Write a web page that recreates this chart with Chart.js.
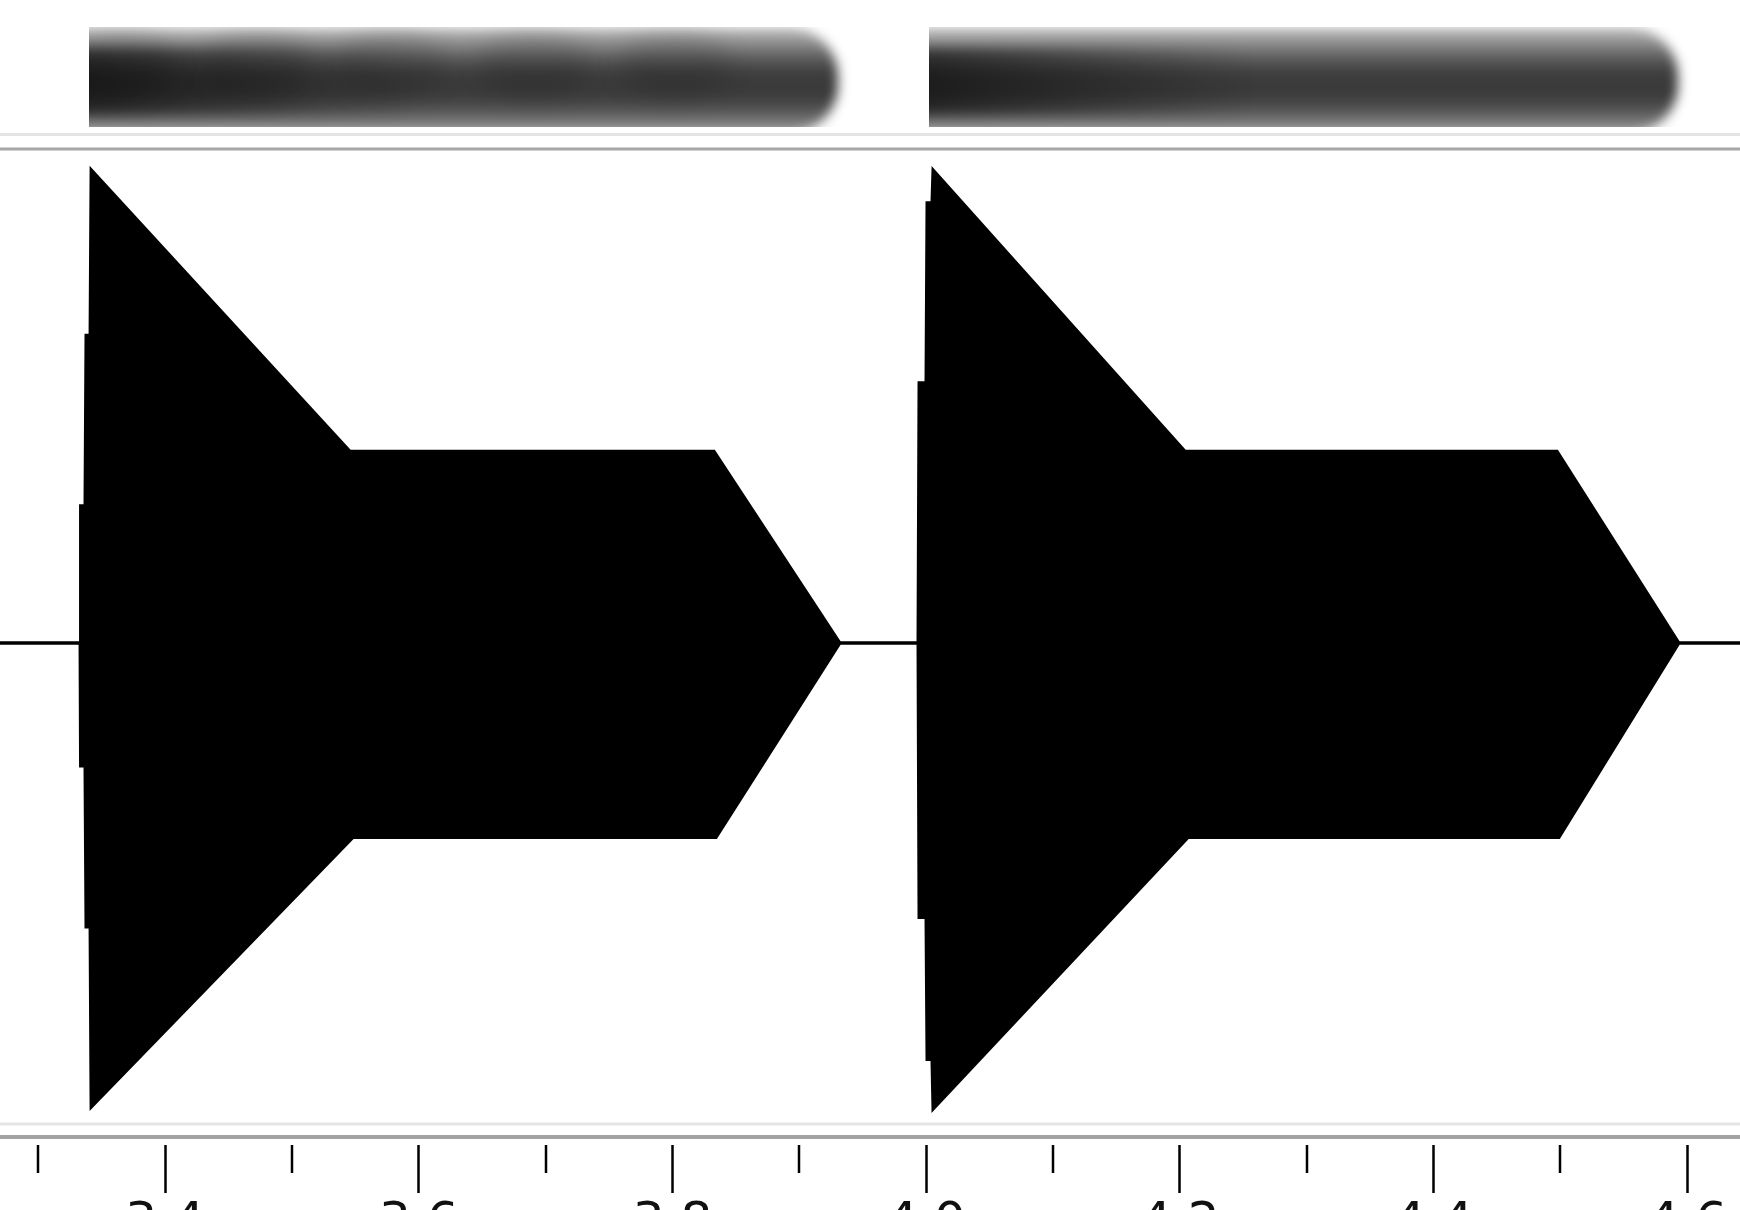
<!DOCTYPE html>
<html lang="en">
<head>
<meta charset="UTF-8" />
<title>Waveform</title>
<script src="https://cdn.jsdelivr.net/npm/chart.js"></script>
<style>
  html, body { margin: 0; padding: 0; background: #fff; }
  #wrap { width: 1740px; height: 1210px; }
</style>
</head>
<body>
<div id="wrap"><canvas id="wave" width="1740" height="1210"></canvas></div>
<script>
// envelope breakpoints: time (s) and amplitude
const upperT = [3.2699, 3.3330, 3.3334, 3.3369, 3.3377, 3.3409, 3.3417, 3.5458, 3.8328, 3.9321,
                3.9936, 3.9944, 3.9999, 4.0007, 4.0046, 4.0054, 4.2041, 4.4974, 4.5935, 4.6416];
const upperA = [0, 0, 0.29, 0.29, 0.65, 0.65, 1.0, 0.405, 0.405, 0,
                0, 0.55, 0.55, 0.93, 0.93, 1.0, 0.405, 0.405, 0, 0];
const lowerT = [3.2699, 3.3330, 3.3334, 3.3369, 3.3377, 3.3409, 3.3417, 3.5482, 3.8344, 3.9321,
                3.9936, 3.9944, 3.9999, 4.0007, 4.0046, 4.0054, 4.2065, 4.4989, 4.5935, 4.6416];
const lowerA = [0, 0, -0.26, -0.26, -0.6, -0.6, -0.981, -0.411, -0.411, 0,
                0, -0.58, -0.58, -0.88, -0.88, -0.985, -0.411, -0.411, 0, 0];

const majorTicks = [3.4, 3.6, 3.8, 4.0, 4.2, 4.4, 4.6];
const minorTicks = [3.3, 3.5, 3.7, 3.9, 4.1, 4.3, 4.5];

// blurred note strip on top
const stripStart = [3.3401, 4.0023];
const stripEnd = [3.9305, 4.5927];
const vibratoT = [3.3645, 3.4733, 3.5773, 3.6908, 3.8020];

const toPts = (ts, as) => ts.map((t, i) => ({ x: t, y: as[i] }));

const extras = {
  id: 'extras',
  beforeDatasetsDraw(chart) {
    const { ctx, scales } = chart;
    const xs = scales.x, ys = scales.ys;
    const yTop = ys.getPixelForValue(1), yBot = ys.getPixelForValue(0);
    const hgt = yBot - yTop;

    stripStart.forEach((s, i) => {
      const x0 = xs.getPixelForValue(s), x1 = xs.getPixelForValue(stripEnd[i]);
      ctx.save();
      ctx.beginPath();
      ctx.rect(x0, yTop - 3, x1 - x0 + 30, hgt + 3);
      ctx.clip();
      ctx.filter = 'blur(6px)';

      const g = ctx.createLinearGradient(0, yTop, 0, yBot);
      g.addColorStop(0, '#b8b8b8');
      g.addColorStop(0.14, '#8c8c8c');
      g.addColorStop(0.3, '#5a5a5a');
      g.addColorStop(0.45, '#3c3c3c');
      g.addColorStop(0.65, '#393939');
      g.addColorStop(0.8, '#4e4e4e');
      g.addColorStop(0.9, '#6a6a6a');
      g.addColorStop(1, '#8a8a8a');
      ctx.fillStyle = g;
      ctx.beginPath();
      ctx.roundRect(x0 - 30, yTop - 2, x1 - x0 + 30, hgt + 8, [0, 48, 48, 0]);
      ctx.fill();

      // darker onset
      const h = ctx.createLinearGradient(x0, 0, x0 + 320, 0);
      h.addColorStop(0, 'rgba(0,0,0,0.5)');
      h.addColorStop(1, 'rgba(0,0,0,0)');
      ctx.fillStyle = h;
      ctx.fillRect(x0 - 30, yTop + 18, 350, hgt - 30);

      if (i === 0) {
        ctx.filter = 'blur(12px)';
        vibratoT.forEach(t => {
          const cx = xs.getPixelForValue(t);
          ctx.fillStyle = 'rgba(0,0,0,0.12)';
          ctx.beginPath();
          ctx.ellipse(cx, yTop + hgt * 0.35, 55, 34, 0, 0, Math.PI * 2);
          ctx.fill();
        });
      }
      ctx.restore();
    });

    // panel separators
    const lines = [[134.5, 3, '#e4e4e4'], [149, 3, '#a6a6a6'], [1124, 3, '#e4e4e4'], [1137, 4, '#a3a3a3']];
    ctx.save();
    lines.forEach(([y, w, c]) => {
      ctx.strokeStyle = c;
      ctx.lineWidth = w;
      ctx.beginPath();
      ctx.moveTo(0, y);
      ctx.lineTo(chart.width, y);
      ctx.stroke();
    });
    ctx.restore();
  },
  afterDraw(chart) {
    const { ctx, scales, chartArea } = chart;
    ctx.save();
    ctx.strokeStyle = '#000';
    ctx.lineWidth = 2.5;
    minorTicks.forEach(v => {
      const px = Math.round(scales.x.getPixelForValue(v));
      ctx.beginPath();
      ctx.moveTo(px, chartArea.bottom);
      ctx.lineTo(px, chartArea.bottom + 28);
      ctx.stroke();
    });
    ctx.restore();
  }
};

new Chart(document.getElementById('wave'), {
  type: 'line',
  data: {
    datasets: [
      { data: toPts(upperT, upperA), yAxisID: 'y', borderColor: '#000', backgroundColor: '#000',
        borderWidth: 3, pointRadius: 0, tension: 0, fill: '+1' },
      { data: toPts(lowerT, lowerA), yAxisID: 'y', borderColor: '#000', backgroundColor: '#000',
        borderWidth: 3, pointRadius: 0, tension: 0, fill: false }
    ]
  },
  options: {
    responsive: false,
    animation: false,
    devicePixelRatio: 1,
    layout: { padding: { left: 0, right: 0, top: 0, bottom: -45 } },
    plugins: { legend: { display: false }, tooltip: { enabled: false } },
    scales: {
      x: {
        type: 'linear', min: 3.2699, max: 4.6416, position: 'bottom',
        afterBuildTicks: ax => { ax.ticks = majorTicks.map(v => ({ value: v })); },
        ticks: {
          autoSkip: false, maxRotation: 0, minRotation: 0, padding: 6, color: '#111',
          font: { family: 'DejaVu Sans', size: 50, lineHeight: 1 },
          callback: v => Number(v).toFixed(1)
        },
        grid: { drawOnChartArea: false, drawTicks: true, tickLength: 48, tickWidth: 2.5, tickColor: '#000' },
        border: { display: false }
      },
      y: { type: 'linear', display: false, min: -1.0606, max: 1.3585 },
      ys: { type: 'linear', axis: 'y', display: false, min: -10.495, max: 1.3093 }
    }
  },
  plugins: [extras]
});
</script>
</body>
</html>
